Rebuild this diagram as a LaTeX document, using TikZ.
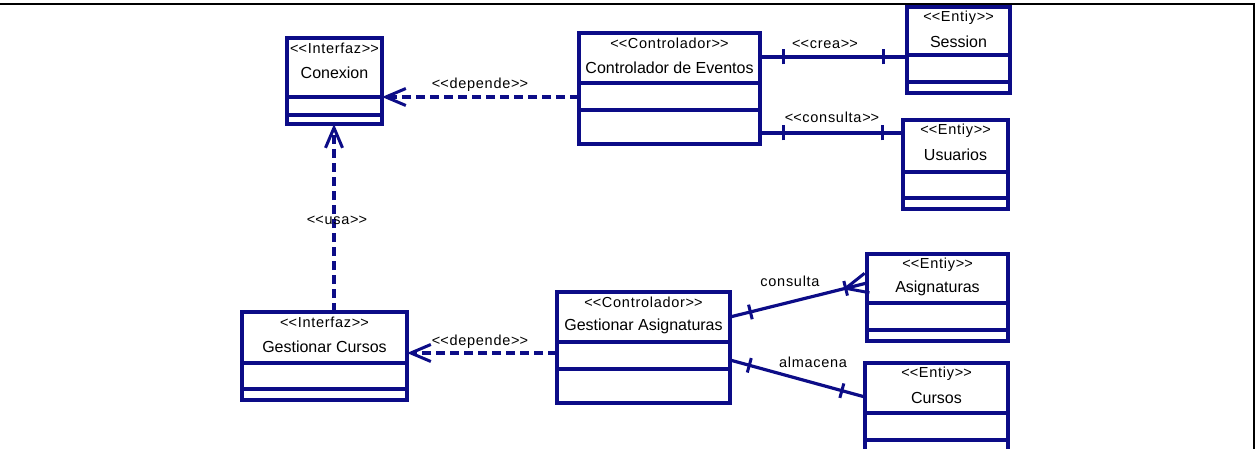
\documentclass[tikz,border=0pt]{standalone}
\usepackage{fontspec}
\setmainfont{Liberation Sans}
\newfontfamily\stfont{Liberation Sans}[LetterSpace=5]
\usetikzlibrary{arrows.meta,decorations.markings}
\definecolor{umlblue}{RGB}{12,12,135}

% guillemet-style stereotype brackets, kept as two separate < and > signs
\newcommand{\stereo}[1]{<\kern0pt<#1>\kern0pt>}

% class box: name, x1, y1, x2, y2, first divider, second divider, stereotype, title
\newcommand{\umlclass}[9]{%
  \node[classbox, minimum width={#4-#2}, minimum height={#5-#3}]
    (#1) at ({(#2+#4)/2},{(#3+#5)/2}) {};
  \draw[boxline] (#2,#6) -- (#4,#6) (#2,#7) -- (#4,#7);
  \node[sttext] (#1-st) at ({(#2+#4)/2},{#3+10.5}) {\stereo{#8}};
  \node[titletext] (#1-t) at ({(#2+#4)/2},{#3+34.5}) {#9};
}

\tikzset{
  classbox/.style={draw=umlblue, line width=3.2pt, inner sep=0pt, outer sep=0pt, rectangle},
  boxline/.style={draw=umlblue, line width=3.2pt},
  sttext/.style={font=\stfont\fontsize{14.5}{16}\selectfont, inner sep=0pt},
  titletext/.style={font=\fontsize{16}{18}\selectfont, inner sep=0pt},
  lbl/.style={font=\stfont\fontsize{14.5}{16}\selectfont, inner sep=0pt},
  conn/.style={draw=umlblue, line width=3.2pt},
  dep/.style={conn, dash pattern=on 9pt off 5pt,
    -{Straight Barb[length=20pt, width=17pt, line width=3pt]}},
  ticks/.style 2 args={postaction={decorate, decoration={markings,
    mark=at position #1 with {\draw[umlblue, line width=3pt] (0,-7.5pt) -- (0,7.5pt);},
    mark=at position #2 with {\draw[umlblue, line width=3pt] (0,-7.5pt) -- (0,7.5pt);}}}},
  crowfoot/.style={postaction={decorate, decoration={markings,
    mark=at position -22pt with {\draw[umlblue, line width=3pt]
      (22pt,10pt) -- (0,0) -- (22pt,-10pt);}}}},
}

\begin{document}
\begin{tikzpicture}[x=1pt, y=-1pt]
\useasboundingbox (0,0) rectangle (1257,449);

% page frame
\draw[line width=1.4pt] (0,4) -- (1254,4) -- (1254,452);

% classes
\umlclass{conexion}{287}{38}{382}{124}{97}{115}{Interfaz}{Conexion}
\umlclass{eventos}{579}{33}{760}{144}{83}{110}{Controlador}{Controlador de Eventos}
\umlclass{session}{907}{7}{1010}{93}{55}{82}{Entiy}{Session}
\umlclass{usuarios}{903}{120}{1008}{209}{172}{198}{Entiy}{Usuarios}
\umlclass{gcursos}{242}{312}{407}{400}{363}{389}{Interfaz}{Gestionar Cursos}
\umlclass{gasig}{557}{292}{730}{403}{342}{369}{Controlador}{Gestionar Asignaturas}
\umlclass{asig}{867}{254}{1008}{341}{303}{330}{Entiy}{Asignaturas}
\umlclass{cursos}{865}{363}{1008}{470}{413}{440}{Entiy}{Cursos}

% dependencies
\draw[dep] (eventos.west |- 0,97) -- (conexion.east |- 0,97);
\node[lbl] (dep1) at (480,85) {\stereo{depende}};
\draw[dep] (gasig.west |- 0,353) -- (gcursos.east |- 0,353);
\node[lbl] (dep2) at (480,342) {\stereo{depende}};
\draw[dep] (gcursos.north -| 334,0) -- (conexion.south -| 334,0);
\node[lbl] (usa) at (337,220) {\stereo{usa}};

% associations
\draw[conn, ticks={23pt}{-24pt}] (eventos.east |- 0,57) -- (session.west |- 0,57);
\node[lbl] (crea) at (825,44) {\stereo{crea}};
\draw[conn, ticks={23pt}{-21pt}] (eventos.east |- 0,133) -- (usuarios.west |- 0,133);
\node[lbl] (cons1) at (832,117) {\stereo{consulta}};
\draw[conn, ticks={21pt}{-22pt}, crowfoot] (gasig.east |- 0,317) -- (asig.west |- 0,283);
\node[lbl] (cons2) at (790,281) {consulta};
\draw[conn, ticks={20pt}{-24pt}] (gasig.east |- 0,360) -- (cursos.west |- 0,397);
\node[lbl] (alm) at (813,362) {almacena};
\end{tikzpicture}
\end{document}
